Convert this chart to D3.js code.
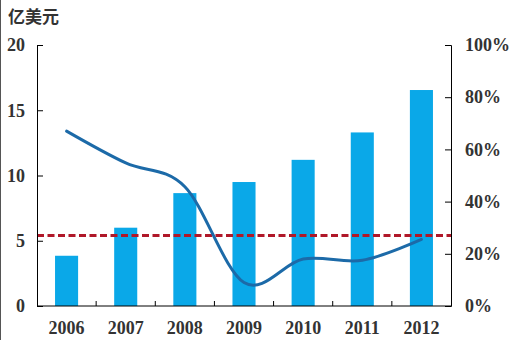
<!DOCTYPE html>
<html>
<head>
<meta charset="utf-8">
<script src="https://cdn.jsdelivr.net/npm/d3@7"></script>
<style>
  html, body { margin: 0; padding: 0; background: #fff; }
  svg { display: block; }
  .tick text { font-family: "Liberation Serif", "DejaVu Serif", serif; font-weight: bold; fill: #333; }
</style>
</head>
<body>
<svg id="chart" width="511" height="340"></svg>
<script>
// Annual amounts (亿美元) and growth-rate line (%)
const years = ["2006", "2007", "2008", "2009", "2010", "2011", "2012"];
const amounts = [3.85, 6.0, 8.65, 9.5, 11.2, 13.3, 16.55];
const rates = [67, 54.8, 45.7, 9.0, 18.0, 17.5, 25.5];
const referenceLevel = 5.4; // dashed reference line, left-axis units
const leftTicks = [0, 5, 10, 15, 20];
const rightTicks = [0, 20, 40, 60, 80, 100];

const svg = d3.select("#chart");
const m = { left: 37, right: 451, top: 45, bottom: 306 };

const x = d3.scaleBand().domain(years).range([m.left, m.right]).paddingInner(0.61).paddingOuter(0.305);
const yL = d3.scaleLinear().domain([0, 20]).range([m.bottom, m.top]);
const yR = d3.scaleLinear().domain([0, 100]).range([m.bottom, m.top]);

// thin frame line on the left edge
svg.append("line").attr("x1", 0.5).attr("x2", 0.5).attr("y1", 0).attr("y2", 340)
  .attr("stroke", "#555").attr("stroke-width", 1);

// bars
svg.append("g").selectAll("rect").data(years).join("rect")
  .attr("x", d => x(d))
  .attr("width", x.bandwidth())
  .attr("y", (d, i) => yL(amounts[i]))
  .attr("height", (d, i) => yL(0) - yL(amounts[i]))
  .attr("fill", "#0aa8e8");

// dashed reference line
svg.append("line")
  .attr("x1", m.left).attr("x2", m.right)
  .attr("y1", yL(referenceLevel)).attr("y2", yL(referenceLevel))
  .attr("stroke", "#b01829").attr("stroke-width", 3)
  .attr("stroke-dasharray", "7,3.5");

// smoothed rate line
const line = d3.line()
  .x((d, i) => x(years[i]) + x.bandwidth() / 2)
  .y(d => yR(d))
  .curve(d3.curveCardinal.tension(0));
svg.append("path").datum(rates)
  .attr("d", line)
  .attr("fill", "none")
  .attr("stroke", "#1c6aa8")
  .attr("stroke-width", 3)
  .attr("stroke-linecap", "round");

// axes
const fontSize = 18;
const gL = svg.append("g").attr("transform", `translate(${m.left},0)`)
  .call(d3.axisRight(yL).tickValues(leftTicks).tickSize(6).tickFormat(d3.format("d")));
gL.selectAll(".tick text").attr("x", -12).attr("text-anchor", "end").style("font-size", fontSize + "px");

const gR = svg.append("g").attr("transform", `translate(${m.right},0)`)
  .call(d3.axisLeft(yR).tickValues(rightTicks).tickSize(6).tickFormat(d => d + "%"));
gR.selectAll(".tick text").attr("x", 14).attr("text-anchor", "start").style("font-size", fontSize + "px");

const xTicks = d3.range(1, years.length).map(i => (x(years[i - 1]) + x.bandwidth() + x(years[i])) / 2);
const gB = svg.append("g").attr("transform", `translate(0,${m.bottom})`);
gB.append("line").attr("x1", m.left).attr("x2", m.right).attr("stroke", "#000");
gB.selectAll("line.t").data(xTicks).join("line").attr("class", "t")
  .attr("x1", d => d).attr("x2", d => d).attr("y1", 0).attr("y2", -5).attr("stroke", "#000");
gB.selectAll("text").data(years).join("text")
  .attr("x", d => x(d) + x.bandwidth() / 2)
  .attr("y", 22)
  .attr("dy", "0.32em")
  .attr("text-anchor", "middle")
  .style("font-family", "'Liberation Serif', serif")
  .style("font-weight", "bold")
  .style("font-size", fontSize + "px")
  .attr("fill", "#333")
  .text(d => d);

[gL, gR].forEach(g => {
  g.select(".domain").attr("stroke", "#000");
  g.selectAll(".tick line").attr("stroke", "#000");
});

// unit label
svg.append("text")
  .attr("x", 8).attr("y", 23)
  .style("font-family", "'Noto Sans CJK SC', sans-serif")
  .style("font-weight", "bold")
  .style("font-size", "17px")
  .attr("fill", "#333")
  .text("亿美元");
</script>
</body>
</html>
